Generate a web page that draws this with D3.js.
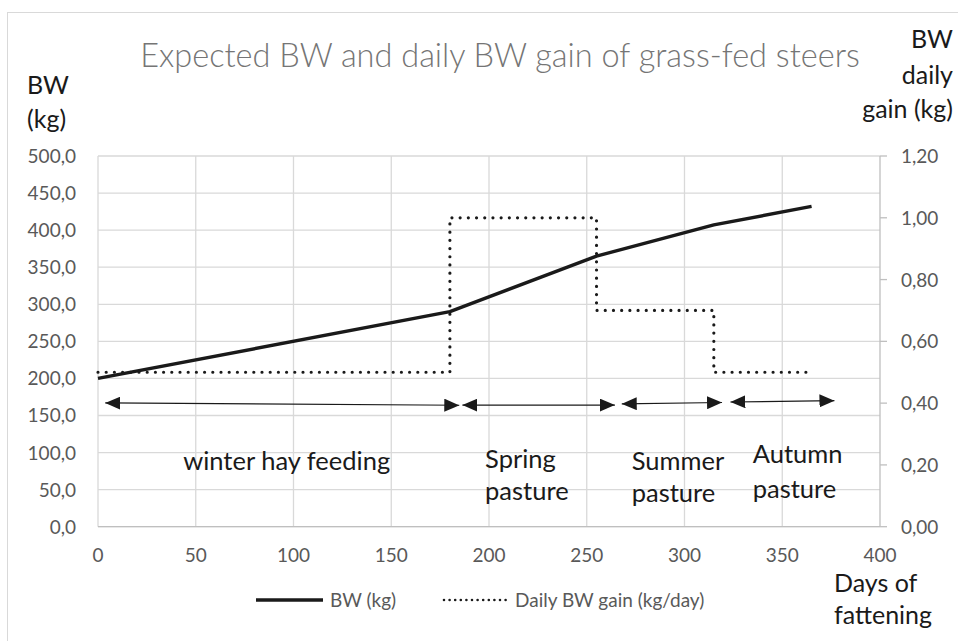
<!DOCTYPE html>
<html lang="en">
<head>
<meta charset="UTF-8" />
<script src="https://d3js.org/d3.v7.min.js"></script>
<style>
    body { margin: 0; background: #fff; }
    svg text { font-family: Lato, "Open Sans", sans-serif; }
    .grid line { stroke: #d9d9d9; stroke-width: 1.3; }
    .tick-label { fill: #595959; font-size: 19px; }
    .axis-title { fill: #1a1a1a; font-size: 25px; }
    .phase { fill: #1a1a1a; font-size: 25.5px; }
    .legend-text { fill: #595959; font-size: 19px; }
</style>
</head>
<body>
<svg id="chart" width="958" height="641"></svg>
<script>
    // data
    const bwDays = [0, 180, 255, 315, 365];
    const bwValues = [200, 290, 365, 407, 432];

    const gainDays = [0, 180, 180, 255, 255, 315, 315, 365];
    const gainValues = [0.5, 0.5, 1.0, 1.0, 0.7, 0.7, 0.5, 0.5];

    const xTicks = [0, 50, 100, 150, 200, 250, 300, 350, 400];
    const leftTicks = [0, 50, 100, 150, 200, 250, 300, 350, 400, 450, 500];
    const rightTicks = [0, 0.2, 0.4, 0.6, 0.8, 1.0, 1.2];

    // feeding periods (arrow spans in days, arrow height in BW units)
    const phaseStart = [3.7, 186.4, 267.9, 323.5];
    const phaseEnd = [184.8, 264.4, 319.2, 376.7];
    const phaseBwStart = [166.9, 164, 165.6, 168.2];
    const phaseBwEnd = [163.8, 164, 167.5, 170];
    const phaseLabels = [["winter hay feeding"], ["Spring", "pasture"], ["Summer", "pasture"], ["Autumn", "pasture"]];
    const labelDay = [96.5, 198, 273, 334.9];
    const labelBw = [76.5, 79.2, 76.5, 86.3];
    const labelGap = [0, 32, 32, 35.6];

    const svg = d3.select("#chart");

    // outer chart border
    svg.append("rect")
        .attr("x", 7.5).attr("y", 12.5)
        .attr("width", 960).attr("height", 640)
        .attr("fill", "none").attr("stroke", "#d9d9d9");

    const plotL = 98, plotR = 880, plotT = 156, plotB = 526.7;
    const x = d3.scaleLinear().domain([0, 400]).range([plotL, plotR]);
    const yL = d3.scaleLinear().domain([0, 500]).range([plotB, plotT]);
    const yR = d3.scaleLinear().domain([0, 1.2]).range([plotB, plotT]);

    const comma = f => v => d3.format(f)(v).replace(".", ",");

    // gridlines
    const grid = svg.append("g").attr("class", "grid");
    grid.selectAll("line.h").data(leftTicks).join("line")
        .attr("class", "h")
        .attr("x1", plotL).attr("x2", plotR)
        .attr("y1", d => yL(d)).attr("y2", d => yL(d));
    grid.selectAll("line.v").data(xTicks.slice(0, -1)).join("line")
        .attr("class", "v")
        .attr("x1", d => x(d)).attr("x2", d => x(d))
        .attr("y1", plotT).attr("y2", plotB);

    // right axis line + ticks, bottom axis line
    svg.append("line")
        .attr("x1", plotR).attr("x2", plotR).attr("y1", plotT).attr("y2", plotB)
        .attr("stroke", "#bfbfbf").attr("stroke-width", 1.3);
    svg.selectAll("line.rtick").data(rightTicks).join("line")
        .attr("class", "rtick")
        .attr("x1", plotR).attr("x2", plotR + 7)
        .attr("y1", d => yR(d)).attr("y2", d => yR(d))
        .attr("stroke", "#bfbfbf").attr("stroke-width", 1.3);
    svg.append("line")
        .attr("x1", plotL).attr("x2", plotR).attr("y1", plotB).attr("y2", plotB)
        .attr("stroke", "#bfbfbf").attr("stroke-width", 1.3);

    // tick labels
    svg.selectAll("text.lt").data(leftTicks).join("text")
        .attr("class", "tick-label lt")
        .attr("x", 76).attr("y", d => yL(d) + 7)
        .attr("text-anchor", "end")
        .text(comma(".1f"));
    svg.selectAll("text.rt").data(rightTicks).join("text")
        .attr("class", "tick-label rt")
        .attr("x", 901).attr("y", d => yR(d) + 7)
        .text(comma(".2f"));
    svg.selectAll("text.xt").data(xTicks).join("text")
        .attr("class", "tick-label xt")
        .attr("x", d => x(d)).attr("y", 562)
        .attr("text-anchor", "middle")
        .text(d => d);

    // title
    svg.append("text")
        .attr("x", 500).attr("y", 67)
        .attr("text-anchor", "middle")
        .attr("fill", "#757575")
        .style("font-size", "32.5px")
        .style("font-weight", 300)
        .text("Expected BW and daily BW gain of grass-fed steers");

    // axis titles
    const at = (lines, xx, ys, anchor) => lines.forEach((t, i) =>
        svg.append("text").attr("class", "axis-title")
            .attr("x", xx).attr("y", ys[i]).attr("text-anchor", anchor).text(t));
    at(["BW", "(kg)"], 27, [94, 128], "start");
    at(["BW", "daily", "gain (kg)"], 953, [48, 84, 118], "end");
    at(["Days of", "fattening"], 834, [592, 624], "start");

    // series
    const bwLine = d3.line().x((d, i) => x(bwDays[i])).y(d => yL(d));
    svg.append("path")
        .attr("d", bwLine(bwValues))
        .attr("fill", "none").attr("stroke", "#1a1a1a")
        .attr("stroke-width", 3.4).attr("stroke-linejoin", "round");

    const gainLine = d3.line().x((d, i) => x(gainDays[i])).y(d => yR(d));
    svg.append("path")
        .attr("d", gainLine(gainValues))
        .attr("fill", "none").attr("stroke", "#1a1a1a")
        .attr("stroke-width", 3.2).attr("stroke-linecap", "round")
        .attr("stroke-dasharray", "0,8.2");

    // arrow heads
    const defs = svg.append("defs");
    defs.append("marker")
        .attr("id", "head")
        .attr("viewBox", "0 0 15 13")
        .attr("refX", 15).attr("refY", 6.5)
        .attr("markerWidth", 15).attr("markerHeight", 13)
        .attr("markerUnits", "userSpaceOnUse")
        .attr("orient", "auto-start-reverse")
        .append("path").attr("d", "M0,0L15,6.5L0,13Z").attr("fill", "#1a1a1a");

    svg.selectAll("line.phase").data(phaseStart).join("line")
        .attr("class", "phase")
        .attr("x1", d => x(d)).attr("x2", (d, i) => x(phaseEnd[i]))
        .attr("y1", (d, i) => yL(phaseBwStart[i])).attr("y2", (d, i) => yL(phaseBwEnd[i]))
        .attr("stroke", "#1a1a1a").attr("stroke-width", 1.2)
        .attr("marker-start", "url(#head)").attr("marker-end", "url(#head)");

    phaseLabels.forEach((lines, i) => {
        const t = svg.append("text").attr("class", "phase")
            .attr("x", x(labelDay[i]))
            .attr("y", yL(labelBw[i]))
            .attr("text-anchor", i === 0 ? "middle" : "start");
        lines.forEach((l, j) => t.append("tspan")
            .attr("x", x(labelDay[i]))
            .attr("dy", j === 0 ? 0 : labelGap[i]).text(l));
    });

    // legend
    const lg = svg.append("g");
    lg.append("line").attr("x1", 256).attr("x2", 323).attr("y1", 600).attr("y2", 600)
        .attr("stroke", "#1a1a1a").attr("stroke-width", 3.4);
    lg.append("text").attr("class", "legend-text").attr("x", 330).attr("y", 607).text("BW (kg)");
    lg.append("line").attr("x1", 444).attr("x2", 510).attr("y1", 600).attr("y2", 600)
        .attr("stroke", "#1a1a1a").attr("stroke-width", 2.6).attr("stroke-linecap", "round")
        .attr("stroke-dasharray", "0,5.6");
    lg.append("text").attr("class", "legend-text").attr("x", 515).attr("y", 607).text("Daily BW gain (kg/day)");
</script>
</body>
</html>
